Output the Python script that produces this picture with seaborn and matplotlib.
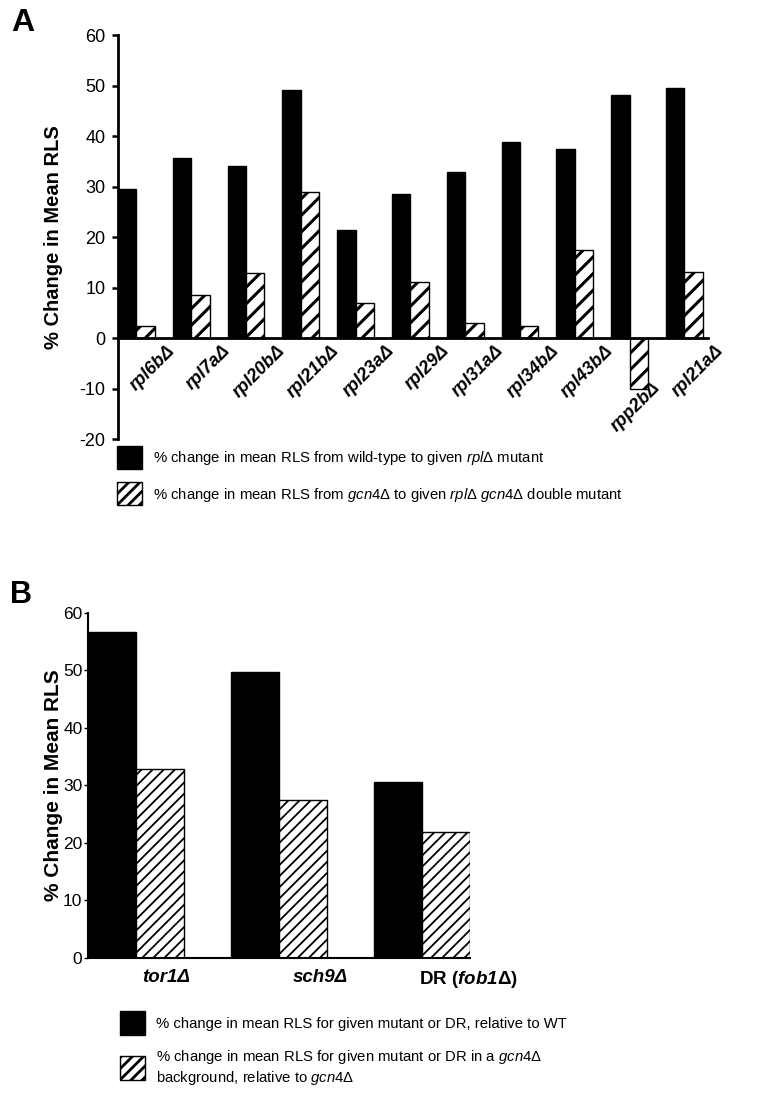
import matplotlib

matplotlib.use("Agg")

import matplotlib.pyplot as plt
import matplotlib.transforms as mtrans
from matplotlib.patches import Patch
import seaborn as sns
import pandas as pd

# -----------------------------
# Data
# -----------------------------
strains_a = ["rpl6bΔ", "rpl7aΔ", "rpl20bΔ", "rpl21bΔ", "rpl23aΔ", "rpl29Δ",
             "rpl31aΔ", "rpl34bΔ", "rpl43bΔ", "rpp2bΔ", "rpl21aΔ"]
wt_change_a = [29.5, 35.7, 34.0, 49.2, 21.3, 28.6, 32.9, 38.8, 37.4, 48.2, 49.5]
gcn4_change_a = [2.3, 8.5, 12.8, 29.0, 7.0, 11.1, 3.0, 2.4, 17.4, -10.0, 13.1]

strains_b = ["tor1Δ", "sch9Δ", "DR (fob1Δ)"]
wt_change_b = [56.6, 49.7, 30.6]
gcn4_change_b = [32.9, 27.5, 21.9]

series = ["wt", "gcn4"]

legend_a = [
    r"% change in mean RLS from wild-type to given $\mathit{rpl}$Δ mutant",
    r"% change in mean RLS from $\mathit{gcn4}$Δ to given $\mathit{rpl}$Δ $\mathit{gcn4}$Δ double mutant",
]
legend_b = [
    "% change in mean RLS for given mutant or DR, relative to WT",
    "% change in mean RLS for given mutant or DR in a $\\mathit{gcn4}$Δ\n"
    "background, relative to $\\mathit{gcn4}$Δ",
]

# -----------------------------
# Style
# -----------------------------
sns.set_style("ticks")
plt.rcParams["font.family"] = ["Liberation Sans", "DejaVu Sans"]
plt.rcParams["mathtext.fontset"] = "custom"
plt.rcParams["mathtext.rm"] = "Liberation Sans"
plt.rcParams["mathtext.it"] = "Liberation Sans:italic"
plt.rcParams["mathtext.bf"] = "Liberation Sans:bold"
plt.rcParams["mathtext.bfit"] = "Liberation Sans:italic:bold"
plt.rcParams["axes.unicode_minus"] = False
for key in ["text.color", "axes.labelcolor", "xtick.color", "ytick.color",
            "axes.edgecolor"]:
    plt.rcParams[key] = "black"
plt.rcParams["hatch.linewidth"] = 2.0


def hatch_bars(bars, pattern, lw):
    for bar in bars:
        bar.set_hatch(pattern)
        if hasattr(bar, "set_hatch_linewidth"):
            bar.set_hatch_linewidth(lw)


df_a = pd.DataFrame({
    "strain": strains_a * 2,
    "change": wt_change_a + gcn4_change_a,
    "series": [series[0]] * len(strains_a) + [series[1]] * len(strains_a),
})
df_b = pd.DataFrame({
    "strain": strains_b * 2,
    "change": wt_change_b + gcn4_change_b,
    "series": [series[0]] * len(strains_b) + [series[1]] * len(strains_b),
})

fig = plt.figure(figsize=(7.62, 11.12), dpi=100)

# ==========================================================
# PANEL A
# ==========================================================
ax_a = fig.add_axes([0.155, 0.6052, 0.774, 0.3633])
sns.barplot(data=df_a, x="strain", y="change", hue="series",
            palette=["black", "white"], saturation=1, edgecolor="black",
            linewidth=1, width=0.67, gap=0, errorbar=None, legend=False, ax=ax_a)
hatch_bars(ax_a.containers[1], "//", 2.2)

ax_a.set_ylim(-20, 60)
ax_a.set_yticks(range(-20, 61, 10))
ax_a.set_xlim(-0.335, 10.43)
ax_a.set_xlabel("")
ax_a.set_ylabel("% Change in Mean RLS", fontsize=14.5, fontweight="bold")
ax_a.yaxis.set_label_coords(-0.093, 0.5)
for s in ["top", "right"]:
    ax_a.spines[s].set_visible(False)
ax_a.spines["bottom"].set_position(("data", 0))
ax_a.spines["left"].set_linewidth(2)
ax_a.spines["bottom"].set_linewidth(2)
ax_a.tick_params(axis="y", length=4, width=1.8, pad=5, labelsize=13)
ax_a.tick_params(axis="x", length=0, pad=3)
ax_a.set_xticks(range(len(strains_a)))
ax_a.set_xticklabels(strains_a, rotation=45, ha="right", va="top",
                     rotation_mode="anchor", fontstyle="italic",
                     fontweight="bold", fontsize=13)
for lab in ax_a.get_xticklabels():
    dy = -0.37 if lab.get_text() == "rpp2bΔ" else 0
    dx = 0.22 if lab.get_text() == "rpp2bΔ" else 0.30
    lab.set_transform(lab.get_transform() +
                      mtrans.ScaledTranslation(dx, dy, fig.dpi_scale_trans))

handles_a = [Patch(facecolor="black", edgecolor="black"),
             Patch(facecolor="white", edgecolor="black", hatch="///")]
fig.legend(handles_a, legend_a, loc="upper left",
           bbox_to_anchor=(117 / 762, 1 - 446 / 1112), frameon=False,
           fontsize=10.7, handlelength=1.7, handleheight=2.0,
           handletextpad=0.75, labelspacing=0.9, borderpad=0, borderaxespad=0)

fig.text(11 / 762, 1 - 8 / 1112, "A", fontsize=23, fontweight="bold",
         va="top", ha="left")

# ==========================================================
# PANEL B
# ==========================================================
ax_b = fig.add_axes([0.1155, 0.1385, 0.5013, 0.3103])
sns.barplot(data=df_b, x="strain", y="change", hue="series",
            palette=["black", "white"], saturation=1, edgecolor="black",
            linewidth=1, width=0.67, gap=0, errorbar=None, legend=False, ax=ax_b)
hatch_bars(ax_b.containers[1], "///", 1.3)

ax_b.set_ylim(0, 60)
ax_b.set_yticks(range(0, 61, 10))
ax_b.set_xlim(-0.335, 2.335)
ax_b.set_xlabel("")
ax_b.set_ylabel("% Change in Mean RLS", fontsize=15, fontweight="bold")
ax_b.yaxis.set_label_coords(-0.065, 0.5)
for s in ["top", "right"]:
    ax_b.spines[s].set_visible(False)
ax_b.spines["left"].set_linewidth(1.5)
ax_b.spines["bottom"].set_linewidth(1.5)
ax_b.tick_params(axis="y", length=3, width=1, pad=1, labelsize=12.5)
ax_b.tick_params(axis="x", length=0, pad=8)
ax_b.set_xticks(range(len(strains_b)))
ax_b.set_xticklabels(["tor1Δ", "sch9Δ", r"DR ($\mathbfit{fob1}$Δ)"],
                     fontsize=13.5, fontweight="bold")
for lab, dx in zip(ax_b.get_xticklabels(), [0.30, 0.41, 0.46]):
    if not lab.get_text().startswith("DR"):
        lab.set_fontstyle("italic")
    lab.set_transform(lab.get_transform() +
                      mtrans.ScaledTranslation(dx, 0, fig.dpi_scale_trans))

handles_b = [Patch(facecolor="black", edgecolor="black"),
             Patch(facecolor="white", edgecolor="black", hatch="///")]
fig.legend(handles_b, legend_b, loc="upper left",
           bbox_to_anchor=(120 / 762, 1 - 1011 / 1112), frameon=False,
           fontsize=10.7, handlelength=1.7, handleheight=2.1,
           handletextpad=0.7, labelspacing=0.9, borderpad=0, borderaxespad=0)

fig.text(10 / 762, 1 - 580 / 1112, "B", fontsize=22, fontweight="bold",
         va="top", ha="left")

fig.savefig("out.png", dpi=100)
plt.close(fig)
